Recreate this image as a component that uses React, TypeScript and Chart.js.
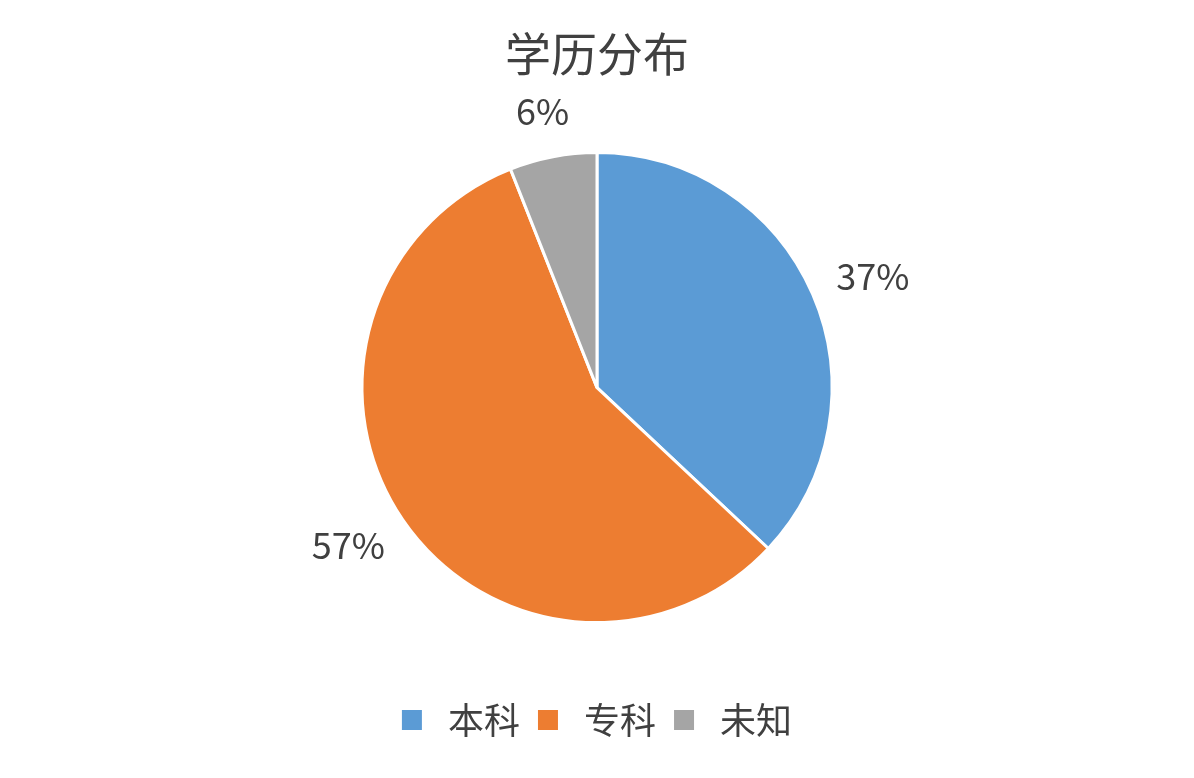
import React, { useEffect, useRef } from 'react';
import { Chart, registerables, ChartConfiguration, Plugin } from 'chart.js';

Chart.register(...registerables);

const categories = ['本科', '专科', '未知'];
const shares = [37, 57, 6];
const sliceColors = ['#5B9BD5', '#ED7D31', '#A5A5A5'];

const FONT = '"Noto Sans CJK SC", "Noto Sans", sans-serif';
const TEXT = '#404040';

// outside percentage labels, nearest edge of the text kept a fixed gap from the rim
const outsideLabels: Plugin<'pie'> = {
    id: 'outsideLabels',
    afterDatasetsDraw(chart) {
        const ctx = chart.ctx;
        const meta = chart.getDatasetMeta(0);
        ctx.save();
        ctx.font = `36px ${FONT}`;
        ctx.fillStyle = TEXT;
        ctx.textAlign = 'center';
        ctx.textBaseline = 'middle';
        meta.data.forEach((el, i) => {
            const { x, y, startAngle, endAngle, outerRadius } = (el as any).getProps(
                ['x', 'y', 'startAngle', 'endAngle', 'outerRadius'], true);
            const mid = (startAngle + endAngle) / 2;
            const text = `${shares[i]}%`;
            const w = ctx.measureText(text).width;
            const h = 34;
            const r = outerRadius + 29;
            const cx = x + Math.cos(mid) * r + (w / 2) * Math.cos(mid);
            const cy = y + Math.sin(mid) * r + (h / 2) * Math.sin(mid);
            ctx.fillText(text, cx, cy);
        });
        ctx.restore();
    },
};

const App: React.FC = () => {
    const canvasRef = useRef<HTMLCanvasElement>(null);
    const chartRef = useRef<Chart | null>(null);

    useEffect(() => {
        document.body.style.margin = '0';
        document.body.style.background = '#ffffff';
        if (!canvasRef.current) return;

        const baseLabels = (Chart as any).overrides.pie.plugins.legend.labels.generateLabels;

        const config: ChartConfiguration<'pie'> = {
            type: 'pie',
            data: {
                labels: categories,
                datasets: [{
                    data: shares,
                    backgroundColor: sliceColors,
                    borderColor: '#ffffff',
                    borderWidth: 3,
                    radius: 235,
                }],
            },
            options: {
                responsive: true,
                maintainAspectRatio: false,
                animation: false,
                layout: { padding: { top: 0, bottom: 30 } },
                plugins: {
                    title: {
                        display: true,
                        text: '学历分布',
                        color: TEXT,
                        font: { family: FONT, size: 46, weight: 'normal' },
                        padding: { top: 26, bottom: 10 },
                    },
                    legend: {
                        position: 'bottom',
                        labels: {
                            color: TEXT,
                            font: { family: FONT, size: 36 },
                            boxWidth: 20,
                            boxHeight: 20,
                            padding: 18,
                            generateLabels: (chart) =>
                                baseLabels(chart).map((l: any) => ({ ...l, text: ' ' + l.text, strokeStyle: l.fillStyle, lineWidth: 0 })),
                        },
                    },
                    tooltip: { enabled: false },
                },
            },
            plugins: [outsideLabels],
        };

        chartRef.current?.destroy();
        chartRef.current = new Chart(canvasRef.current, config);

        return () => {
            chartRef.current?.destroy();
            chartRef.current = null;
        };
    }, []);

    return (
        <div style={{ position: 'relative', width: 1194, height: 778, background: '#fff' }}>
            <canvas ref={canvasRef} role="img" aria-label="学历分布: 本科 37%, 专科 57%, 未知 6%"></canvas>
        </div>
    );
};

export default App;
